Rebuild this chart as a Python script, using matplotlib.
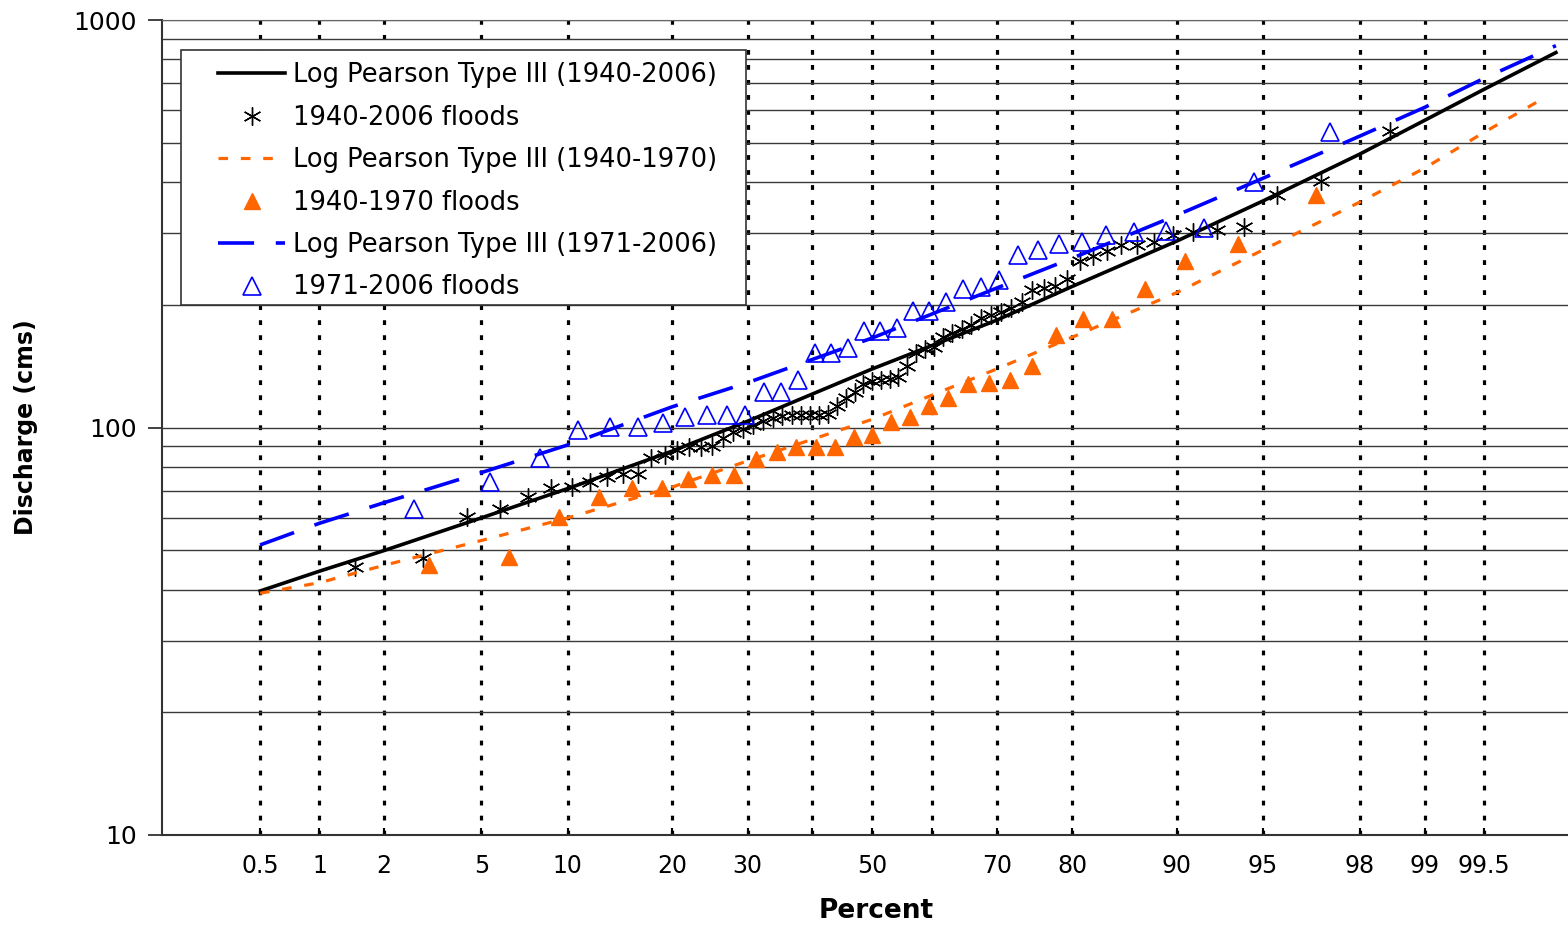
import numpy as np
import matplotlib
matplotlib.use("Agg")
import matplotlib.pyplot as plt
from matplotlib.patches import Rectangle
from matplotlib.ticker import LogLocator, NullFormatter, FixedLocator
from statistics import NormalDist

# plotting positions (percent non-exceedance) and ranked annual floods
pct_all = [1.47, 2.94, 4.41, 5.88, 7.35, 8.82, 10.29, 11.76, 13.24, 14.71, 16.18, 17.65,
           19.12, 20.59, 22.06, 23.53, 25.0, 26.47, 27.94, 29.41, 30.88, 32.35, 33.82,
           35.29, 36.76, 38.24, 39.71, 41.18, 42.65, 44.12, 45.59, 47.06, 48.53, 50.0,
           51.47, 52.94, 54.41, 55.88, 57.35, 58.82, 60.29, 61.76, 63.24, 64.71, 66.18,
           67.65, 69.12, 70.59, 72.06, 73.53, 75.0, 76.47, 77.94, 79.41, 80.88, 82.35,
           83.82, 85.29, 86.76, 88.24, 89.71, 91.18, 92.65, 94.12, 95.59, 97.06, 98.53]
q_all = [45.5, 47.8, 60.3, 63.1, 67.5, 71.0, 71.4, 73.5, 75.6, 76.9,
         76.9, 84.2, 85.6, 88.1, 89.8, 89.8, 90.1, 94.2, 97.5, 99.2,
         101.4, 103.7, 105.5, 106.7, 107.3, 107.3, 107.3, 107.3, 107.9, 112.9,
         118.1, 122.2, 127.8, 130.1, 130.8, 131.5, 133.0, 141.5, 152.3, 155.8,
         157.6, 166.8, 170.6, 174.5, 178.5, 185.6, 188.8, 192.0, 196.5, 203.2,
         217.5, 219.9, 222.4, 231.4, 256.3, 263.6, 271.2, 280.4, 280.4, 285.3,
         296.8, 301.9, 305.2, 310.5, 372.1, 402.7, 534.1]

pct_old = [3.1, 6.3, 9.4, 12.5, 15.6, 18.8, 21.9, 25.0, 28.1, 31.3, 34.4, 37.5, 40.6,
           43.8, 46.9, 50.0, 53.1, 56.3, 59.4, 62.5, 65.6, 68.8, 71.9, 75.0, 78.1,
           81.3, 84.4, 87.5, 90.6, 93.8, 96.9]
q_old = [46.0, 48.1, 60.3, 67.5, 71.0, 71.0, 74.8, 76.4, 76.4, 83.7, 87.1, 89.6, 89.6,
         89.6, 94.8, 95.9, 103.2, 106.1, 112.9, 118.1, 127.8, 128.6, 130.8, 141.5,
         168.7, 184.6, 184.6, 218.7, 256.3, 282.0, 372.1]

pct_new = [2.7, 5.4, 8.1, 10.8, 13.5, 16.2, 18.9, 21.6, 24.3, 27.0, 29.7, 32.4, 35.1,
           37.8, 40.5, 43.2, 45.9, 48.6, 51.4, 54.1, 56.8, 59.5, 62.2, 64.9, 67.6,
           70.3, 73.0, 75.7, 78.4, 81.1, 83.8, 86.5, 89.2, 91.9, 94.6, 97.3]
q_new = [63.1, 73.5, 84.2, 98.6, 100.3, 100.3, 102.6, 106.1, 107.3, 107.3, 107.3,
         122.2, 122.2, 130.8, 152.3, 152.3, 156.7, 172.5, 172.5, 175.5, 193.2, 193.2,
         203.2, 218.7, 221.2, 230.1, 265.1, 272.7, 282.0, 285.3, 296.8, 301.9, 303.6,
         308.8, 400.5, 531.1]

# fitted Log Pearson Type III curves
curve_pct = [0.5, 1, 2, 5, 10, 20, 30, 50, 70, 80, 90, 95, 98, 99, 99.5, 99.8]
curve_pct_old = [0.5, 1, 2, 5, 10, 20, 30, 50, 70, 80, 90, 95, 98, 99, 99.5, 99.75]
lp3_all = [39.7, 44.4, 49.9, 60.0, 70.8, 87.5, 103.6, 139.2, 183.4, 221.8, 286.6,
           359.6, 469.1, 567.5, 676.0, 832.0]
lp3_old = [39.2, 41.6, 45.9, 52.8, 60.0, 71.4, 82.8, 104.7, 139.2, 166.5, 214.2,
           272.7, 357.6, 433.3, 530.1, 633.0]
lp3_new = [51.5, 58.2, 65.4, 77.5, 90.6, 112.4, 128.8, 165.8, 219.9, 260.2, 331.7,
           408.8, 519.2, 610.6, 719.4, 865.0]

tick_pct = [0.5, 1, 2, 5, 10, 20, 30, 40, 50, 60, 70, 80, 90, 95, 98, 99, 99.5]
tick_lab = ["0.5", "1", "2", "5", "10", "20", "30", "", "50", "", "70", "80", "90",
            "95", "98", "99", "99.5"]

nd = NormalDist()


def to_z(p):
    p = np.array(p, dtype=float)
    p = np.where(np.isfinite(p), p, 50.0)
    p = np.clip(p, 1e-4, 100 - 1e-4)
    return np.vectorize(lambda v: nd.inv_cdf(v / 100.0), otypes=[float])(p)


def from_z(z):
    z = np.array(z, dtype=float)
    z = np.where(np.isfinite(z), z, 0.0)
    return np.vectorize(lambda v: nd.cdf(v) * 100.0, otypes=[float])(z)


plt.rcParams["font.family"] = "DejaVu Sans"
fig = plt.figure(figsize=(15.68, 9.25), dpi=100)
ax = fig.add_axes([162 / 1568, 1 - 835 / 925, 1406 / 1568, 815 / 925])
ax.set_xscale("function", functions=(to_z, from_z))
ax.set_yscale("log")
ax.set_xlim(0.14, 99.83)
ax.set_ylim(10, 1000)

# grid
ax.xaxis.set_major_locator(FixedLocator(tick_pct))
ax.set_xticklabels(tick_lab)
ax.xaxis.set_minor_locator(FixedLocator([]))
ax.grid(axis="x", which="major", color="black", lw=2.3, ls=(0, (1.5, 3.2)))
ax.set_yticks([10, 100, 1000])
ax.set_yticklabels(["10", "100", "1000"])
ax.yaxis.set_minor_locator(LogLocator(base=10, subs=np.arange(2, 10)))
ax.yaxis.set_minor_formatter(NullFormatter())
ax.grid(axis="y", which="both", color="#3a3a3a", lw=1.0, ls="-")

ax.tick_params(axis="x", which="major", direction="in", length=5, width=1.5,
               labelsize=17, pad=14, colors="black")
ax.tick_params(axis="y", which="major", direction="out", length=10, width=1.3,
               labelsize=18, pad=8, color="#333333")
ax.tick_params(axis="y", which="minor", length=0)

ax.spines["right"].set_visible(False)
ax.spines["top"].set_color("#666666")
ax.spines["left"].set_color("#333333")
ax.spines["left"].set_linewidth(1.5)
ax.spines["bottom"].set_color("#333333")
ax.spines["bottom"].set_linewidth(1.5)

orange = "#FF6600"
blue = "#0000FF"
ax.plot(curve_pct, lp3_all, color="black", lw=2.6, label="Log Pearson Type III (1940-2006)")
ax.plot(pct_all, q_all, ls="none", marker=(6, 2, 0), ms=13, mew=1.0, color="black",
        label="1940-2006 floods")
ax.plot(curve_pct_old, lp3_old, color=orange, lw=2.3, ls=(0, (3, 4)),
        label="Log Pearson Type III (1940-1970)")
ax.plot(pct_old, q_old, ls="none", marker="^", ms=12, color=orange, mec=orange,
        label="1940-1970 floods")
ax.plot(curve_pct, lp3_new, color=blue, lw=2.6, ls=(0, (10, 6)),
        label="Log Pearson Type III (1971-2006)")
ax.plot(pct_new, q_new, ls="none", marker="^", ms=13, mfc="none", mec=blue, mew=1.2,
        label="1971-2006 floods")

ax.set_xlabel("Percent", fontsize=19, fontweight="bold")
ax.xaxis.set_label_coords(0.508, -0.077)
ax.set_ylabel("Discharge (cms)", fontsize=17, fontweight="bold")
ax.yaxis.set_label_coords(-0.088, 0.5)

# legend box
frame = Rectangle((181 / 1568, 1 - 305 / 925), 565 / 1568, 255 / 925,
                  transform=fig.transFigure, facecolor="white", edgecolor="#333333",
                  lw=1.2, zorder=4, clip_on=False)
ax.add_artist(frame)
leg = ax.legend(loc="upper left", bbox_to_anchor=(208 / 1568, 1 - 52 / 925),
                bbox_transform=fig.transFigure, borderaxespad=0, frameon=False,
                fontsize=18.5, handlelength=2.6, handletextpad=0.31,
                labelspacing=0.64, numpoints=1)
leg.set_zorder(5)

fig.savefig("out.png", dpi=100)
